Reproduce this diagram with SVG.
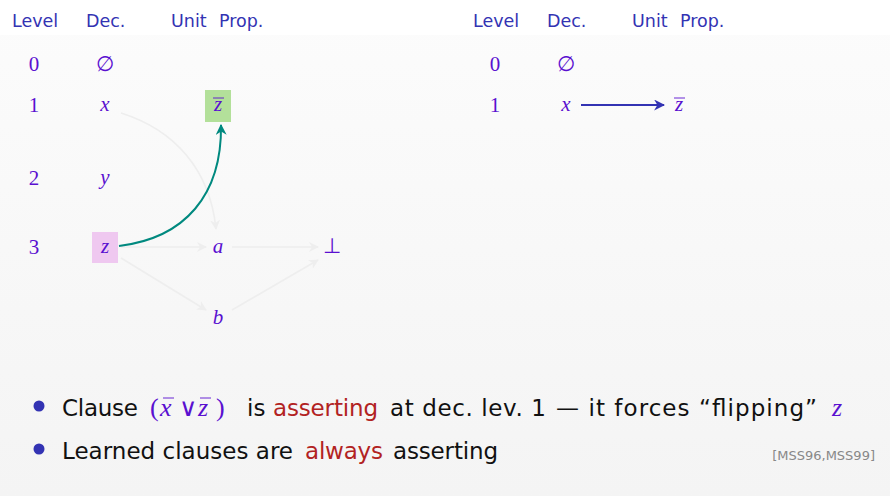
<svg xmlns="http://www.w3.org/2000/svg" width="890" height="496" viewBox="0 0 890 496">
<defs>
<linearGradient id="bg" x1="0" y1="0" x2="0" y2="1">
<stop offset="0" stop-color="#fcfcfc"/>
<stop offset="1" stop-color="#f4f4f4"/>
</linearGradient>
<marker id="ag" viewBox="0 0 10 10" refX="9" refY="5" markerWidth="10" markerHeight="10" markerUnits="userSpaceOnUse" orient="auto">
<path d="M0,0 L10,5 L0,10 L3,5 Z" fill="#eeeeee"/>
</marker>
<marker id="at" viewBox="0 0 10 10" refX="9" refY="5" markerWidth="11" markerHeight="11" markerUnits="userSpaceOnUse" orient="auto">
<path d="M0,0 L10,5 L0,10 L3,5 Z" fill="#00897f"/>
</marker>
<marker id="ab" viewBox="0 0 10 10" refX="9" refY="5" markerWidth="11" markerHeight="11" markerUnits="userSpaceOnUse" orient="auto">
<path d="M0,0 L10,5 L0,10 L3,5 Z" fill="#3333b3"/>
</marker>
</defs>
<style>
.hd{font-family:"DejaVu Sans","Liberation Sans",sans-serif;font-size:17.5px;fill:#3333b3}
.m{font-family:"Liberation Serif",serif;font-size:21px;fill:#5a10d0;text-anchor:middle}
.mi{font-style:italic}
.g{fill:none;stroke:#eeeeee;stroke-width:1.6}
.txt{font-family:"DejaVu Sans","Liberation Sans",sans-serif;font-size:23px;fill:#111111}
.red{fill:#b22222}
.mp{font-family:"Liberation Serif",serif;font-size:26px;fill:#5a10d0}
.bar{stroke:#5a10d0;stroke-width:0.9}
</style>
<rect x="0" y="0" width="890" height="496" fill="url(#bg)"/>
<rect x="0" y="0" width="890" height="35" fill="#ffffff"/>

<g id="headers">
<text class="hd" x="12" y="27">Level</text>
<text class="hd" x="86" y="27">Dec.</text>
<text class="hd" x="171" y="27">Unit</text>
<text class="hd" x="219" y="27">Prop.</text>
<text class="hd" x="473" y="27">Level</text>
<text class="hd" x="547" y="27">Dec.</text>
<text class="hd" x="632" y="27">Unit</text>
<text class="hd" x="680" y="27">Prop.</text>
</g>

<g id="levels-left">
<text class="m" x="34" y="71">0</text>
<text class="m" x="34" y="112">1</text>
<text class="m" x="34" y="185">2</text>
<text class="m" x="34" y="254">3</text>
</g>

<g id="connectors">
<path class="g" d="M121,113 C175,130 210,170 216,229" marker-end="url(#ag)"/>
<path class="g" d="M121,247 L206,247" marker-end="url(#ag)"/>
<path class="g" d="M121,258 L206,310" marker-end="url(#ag)"/>
<path class="g" d="M232,247 L318,247" marker-end="url(#ag)"/>
<path class="g" d="M232,310 L318,260" marker-end="url(#ag)"/>
<path d="M119,246 C185,238 222,195 221,125" fill="none" stroke="#00897f" stroke-width="2" marker-end="url(#at)"/>
<path d="M581,105 L664,105" fill="none" stroke="#3333b3" stroke-width="1.8" marker-end="url(#ab)"/>
</g>

<g id="n-empty"><text class="m" x="105" y="71">∅</text></g>
<g id="n-x"><text class="m mi" x="105" y="111">x</text></g>
<g id="n-y"><text class="m mi" x="105" y="184">y</text></g>
<g id="n-z"><rect x="92" y="232" width="26" height="31" fill="#efc8f0"/><text class="m mi" x="105" y="253">z</text></g>
<g id="n-zbar"><rect x="205" y="90" width="26" height="32" fill="#b3e09a"/><text class="m mi" x="218" y="111">z</text><line class="bar" x1="213" y1="98" x2="224" y2="98"/></g>
<g id="n-a"><text class="m mi" x="218" y="253">a</text></g>
<g id="n-bot"><text class="m" x="332" y="253">⊥</text></g>
<g id="n-b"><text class="m mi" x="218" y="324">b</text></g>

<g id="levels-right">
<text class="m" x="495" y="71">0</text>
<text class="m" x="495" y="112">1</text>
</g>
<g id="r-empty"><text class="m" x="566" y="71">∅</text></g>
<g id="r-x"><text class="m mi" x="566" y="111">x</text></g>
<g id="r-zbar"><text class="m mi" x="679" y="111">z</text><line class="bar" x1="674" y1="98" x2="685" y2="98"/></g>

<g id="bullets">
<circle cx="39" cy="406" r="5.5" fill="#3333b3"/>
<circle cx="39" cy="449" r="5.5" fill="#3333b3"/>
<text class="txt" x="62" y="416" textLength="76" lengthAdjust="spacing">Clause</text>
<text class="mp" x="150" y="416">(</text>
<text class="mp" x="160" y="416" font-style="italic">x</text>
<line class="bar" x1="163" y1="398" x2="174" y2="398"/>
<text x="179" y="416" font-family="DejaVu Sans, sans-serif" font-size="25" fill="#5a10d0">∨</text>
<text class="mp" x="198" y="416" font-style="italic">z</text>
<line class="bar" x1="200" y1="398" x2="211" y2="398"/>
<text class="mp" x="216" y="416">)</text>
<text class="txt" x="247" y="416">is</text>
<text class="txt red" x="273" y="416" textLength="105" lengthAdjust="spacing">asserting</text>
<text class="txt" x="390" y="416" textLength="156" lengthAdjust="spacing">at dec. lev. 1</text>
<text class="txt" x="556" y="416" textLength="261" lengthAdjust="spacing">— it forces “flipping”</text>
<text class="mp" x="832" y="416" font-style="italic">z</text>
<text class="txt" x="62" y="459" textLength="231" lengthAdjust="spacing">Learned clauses are</text>
<text class="txt red" x="305" y="459" textLength="78" lengthAdjust="spacing">always</text>
<text class="txt" x="393" y="459" textLength="105" lengthAdjust="spacing">asserting</text>
<text x="875" y="460" text-anchor="end" font-family="DejaVu Sans, sans-serif" font-size="13" fill="#888888">[MSS96,MSS99]</text>
</g>
</svg>
